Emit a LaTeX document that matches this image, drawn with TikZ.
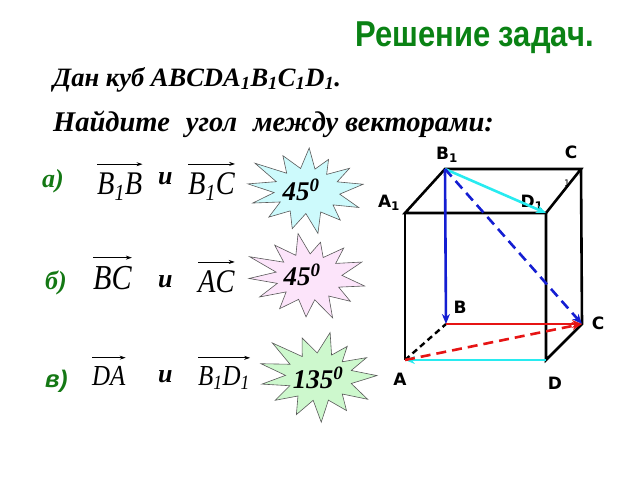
\documentclass[tikz,border=0pt]{standalone}
\usepackage{fontspec}
\setmainfont{Liberation Serif}
\newfontfamily\titlefont{Liberation Sans}[FakeStretch=0.86]
\newfontfamily\labelfont{DejaVu Sans}
\newfontfamily\itemsans{Liberation Sans}
\newfontfamily\vecfont{Liberation Serif}[FakeStretch=0.86]
\usetikzlibrary{arrows.meta}
\definecolor{titlegreen}{RGB}{10,130,20}
\definecolor{itemgreen}{RGB}{20,120,20}
\definecolor{edgecyan}{RGB}{40,235,240}
\definecolor{edgeblue}{RGB}{20,30,210}
\definecolor{edgered}{RGB}{230,20,20}
\definecolor{burstcyan}{RGB}{205,250,252}
\definecolor{burstpink}{RGB}{252,228,250}
\definecolor{burstgreen}{RGB}{205,248,205}

\begin{document}
\begin{tikzpicture}[x=1pt,y=-1pt,
  edge/.style={line width=2.6pt},
  hidden/.style={line width=2.4pt,dash pattern=on 6pt off 4pt},
  vec/.style={line width=2.6pt,-{Stealth[length=10pt,width=8pt]}},
  vertex/.style={font=\labelfont\bfseries\fontsize{17}{17}\selectfont,inner sep=0pt},
  item/.style={font=\bfseries\itshape\fontsize{26}{26}\selectfont,text=itemgreen,inner sep=0pt,anchor=base west},
  conj/.style={font=\bfseries\itshape\fontsize{26}{26}\selectfont,inner sep=0pt,anchor=base west},
  vector/.style={font=\vecfont\itshape\fontsize{#1}{#1}\selectfont,inner sep=0pt,anchor=base west},
  overarrow/.style={line width=0.7pt,-{Stealth[length=6pt,width=4pt]}},
  burstline/.style={draw=black!65,line width=0.6pt},
  burst/.style={inner sep=0pt,font=\bfseries\itshape\fontsize{27}{27}\selectfont}
]
\useasboundingbox (0,0) rectangle (640,480);

% title and problem text
\node[anchor=base west,inner sep=0pt,text=titlegreen,font=\titlefont\bfseries\fontsize{36}{36}\selectfont] (title) at (355,46) {Решение задач.};
\node[anchor=base west,inner sep=0pt,font=\bfseries\itshape\fontsize{26.5}{26.5}\selectfont] (given) at (53,86) {Дан куб ABCDA\textsubscript{1}B\textsubscript{1}C\textsubscript{1}D\textsubscript{1}.};
\node[anchor=base west,inner sep=0pt,font=\bfseries\itshape\fontsize{28.5}{28.5}\selectfont] (task) at (53,131) {Найдите\hspace{16pt}угол\hspace{16pt}между векторами:};

% cube vertices
\coordinate (A) at (405,360);
\coordinate (B) at (446,324);
\coordinate (C) at (582,324);
\coordinate (D) at (546,360);
\coordinate (A1) at (405,213);
\coordinate (B1) at (445,169);
\coordinate (C1) at (581,169);
\coordinate (D1) at (546,213);

% edges
\draw[edge] (A1) -- (B1) -- (C1) -- (D1) -- cycle;
\draw[edge] (A1) -- (A);
\draw[edge] (D1) -- (D) -- (C) -- (C1);
\draw[hidden] (A) -- (B);

% vertex labels
\node[vertex] (lB1) at (447,155) {B\textsubscript{1}};
\node[vertex] (lC1) at (571,152) {C};
\node[vertex,font=\labelfont\fontsize{9}{9}\selectfont] (lC1i) at (567,183) {1};
\node[vertex] (lA1) at (389,203) {A\textsubscript{1}};
\node[vertex] (lD1) at (532,203) {D\textsubscript{1}};
\node[vertex] (lB) at (460,307) {B};
\node[vertex] (lC) at (598,323) {C};
\node[vertex] (lA) at (400,379) {A};
\node[vertex] (lD) at (555,383) {D};

% vectors on the cube
\draw[vec,edgecyan] (B1) -- (D1);
\draw[vec,edgecyan] (D) -- (A);
\draw[vec,edgeblue] (B1) -- (B);
\draw[vec,edgeblue,dash pattern=on 10pt off 6pt] (B1) -- (C);
\draw[vec,edgered] (B) -- (C);
\draw[vec,edgered,dash pattern=on 10pt off 6pt] (A) -- (C);

% stars
\foreach \cx/\cy/\fc/\rx/\ry/\rot in {307/191/burstcyan/60/41/0, 309/277/burstpink/60/42/12, 319/377/burstgreen/61/43/-8}
  \draw[burstline,fill=\fc,shift={(\cx,\cy)},x=\rx pt,y=\ry pt]
    (10+\rot:0.95) \foreach \a/\r in {24/0.55,38/0.9,51/0.52,65/0.85,76/0.55,88/1.05,101/0.56,115/0.95,128/0.55,
      142/1.1,156/0.56,170/1.0,184/0.55,198/0.95,211/0.52,225/0.9,240/0.56,255/0.95,268/0.55,280/1.05,
      294/0.56,308/0.9,322/0.55,335/0.95,352/0.55} { -- (\a+\rot:\r)} -- cycle;

% а)
\node[item] (ia) at (42,187) {а)};
\node[vector=33] (v1) at (97,194) {B\textsubscript{1}B};
\node[conj] (ca) at (158,184) {и};
\node[vector=33] (v2) at (188,194) {B\textsubscript{1}C};
\node[burst] (s1) at (301,190) {45\textsuperscript{0}};

% б)
\node[item] (ib) at (45,289) {б)};
\node[vector=35] (v3) at (93,289) {BC};
\node[conj] (cb) at (158,287) {и};
\node[vector=33] (v4) at (198,292) {AC};
\node[burst] (s2) at (302,275) {45\textsuperscript{0}};

% в)
\node[item,font=\itemsans\bfseries\itshape\fontsize{24}{24}\selectfont] (ic) at (45,387) {в)};
\node[vector=29] (v5) at (92,385) {DA};
\node[conj] (cc) at (158,382) {и};
\node[vector=29] (v6) at (198,385) {B\textsubscript{1}D\textsubscript{1}};
\node[burst] (s3) at (318,378) {135\textsuperscript{0}};

% arrows over the vectors
\foreach \v in {v1,v2,v3,v4,v5,v6}
  \draw[overarrow] ([yshift=8pt]\v.north west) -- ([yshift=8pt]\v.north east);
\end{tikzpicture}
\end{document}
